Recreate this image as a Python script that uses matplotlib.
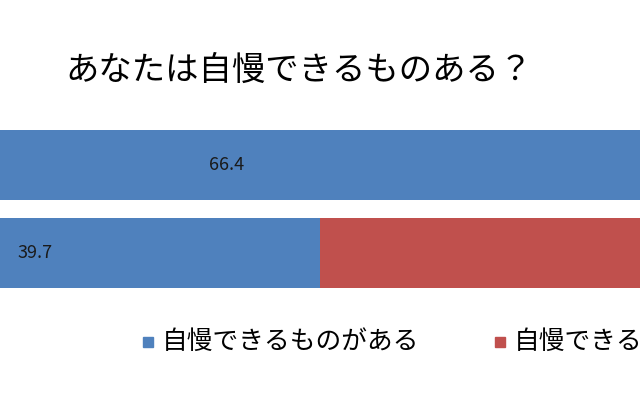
import matplotlib.pyplot as plt
from matplotlib.patches import Rectangle

plt.rcParams['font.family'] = ['Noto Sans CJK JP', 'DejaVu Sans']

title = "あなたは自慢できるものある？"
series_names = ["自慢できるものがある", "自慢できるものがない"]
have = [66.4, 39.7]
have_not = [33.6, 60.3]
colors = ["#4F81BD", "#C0504D"]

fig = plt.figure(figsize=(6.4, 4), dpi=100)
fig.patch.set_facecolor("white")
ax = fig.add_axes([0, 1 - 297 / 400, 1, 176 / 400])

ypos = [0, 1]
ax.barh(ypos, have, height=0.8, color=colors[0])
ax.barh(ypos, have_not, left=have, height=0.8, color=colors[1])
# only the labels inside the visible (cropped) part of the chart
for y, v in zip(ypos, have):
    ax.text(v / 2, y, f"{v:.1f}", ha="center", va="center", fontsize=13, color="#1a1a1a")

ax.set_xlim(17.4, 62)
ax.set_ylim(1.5, -0.5)
ax.axis("off")

fig.text(65 / 640, 1 - 70 / 400, title, fontsize=24, va="center", ha="left")

# legend drawn by hand (right part is cut off in the reference)
for x_sq, x_txt, c, name in [(143, 162, colors[0], series_names[0]),
                             (495, 514, colors[1], series_names[1])]:
    fig.patches.append(Rectangle((x_sq / 640, 1 - 347 / 400), 10 / 640, 10 / 400,
                                 transform=fig.transFigure, color=c))
    fig.text(x_txt / 640, 1 - 342 / 400, name, fontsize=18.5, va="center", ha="left")

fig.savefig("out.png", dpi=100)
